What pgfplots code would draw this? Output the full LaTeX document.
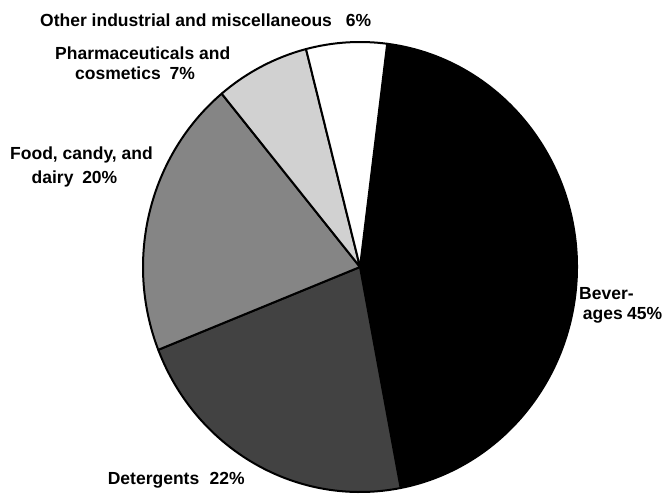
\documentclass[border=0pt]{standalone}
\usepackage{pgfplots}
\pgfplotsset{compat=1.18}
\usepackage{pgfplotstable}
\usepackage{fontspec}
\setmainfont{Liberation Sans}
\definecolor{slice0}{gray}{0}
\definecolor{slice1}{gray}{0.26}
\definecolor{slice2}{gray}{0.52}
\definecolor{slice3}{gray}{0.82}
\definecolor{slice4}{gray}{1}

% share of each industry, percent (clockwise from top)
\pgfplotstableread{
pct
45
22
20
7
6
}\piedata

\begin{document}
\begin{tikzpicture}
\begin{axis}[at={(0,0)}, anchor=south west, scale only axis,
  width=669bp, height=494bp, xmin=0, xmax=669, ymin=0, ymax=494,
  hide axis, clip=false]
\def\cx{360}\def\cy{227}\def\rx{217}\def\ry{225}
\xdef\angA{82.8}
\pgfplotsforeachungrouped \i in {0,...,4}{%
  \pgfplotstablegetelem{\i}{pct}\of\piedata
  \pgfmathsetmacro{\angB}{\angA-3.6*\pgfplotsretval}%
  \pgfmathsetmacro{\sx}{\cx+\rx*cos(\angA)}%
  \pgfmathsetmacro{\sy}{\cy+\ry*sin(\angA)}%
  \edef\temp{\noexpand\filldraw[fill=slice\i, draw=black, line width=2bp, line join=round]
    (axis cs:\cx,\cy) -- (axis cs:\sx,\sy)
    arc[start angle=\angA, end angle=\angB, x radius=\rx bp, y radius=\ry bp] -- cycle;}%
  \temp
  \xdef\angA{\angB}%
}
\tikzset{lab/.style={inner sep=0pt, font=\fontsize{17.5bp}{21bp}\selectfont\bfseries}}
\node[lab, anchor=base west] at (axis cs:40,467) {Other industrial and miscellaneous\hspace{0.8em}6\%};
\node[lab, anchor=base west] at (axis cs:55,434.5) {Pharmaceuticals and};
\node[lab, anchor=base west] at (axis cs:75,414) {cosmetics\hspace{0.5em}7\%};
\node[lab, anchor=base west] at (axis cs:10,334.7) {Food, candy, and};
\node[lab, anchor=base west] at (axis cs:31.5,310) {dairy\hspace{0.5em}20\%};
\node[lab, anchor=base west] at (axis cs:579,194.5) {Bever-};
\node[lab, anchor=base west] at (axis cs:582.7,174.7) {ages\hspace{0.25em}45\%};
\node[lab, anchor=base east] at (axis cs:245,10) {Detergents\hspace{0.6em}22\%};
\end{axis}
\pgfresetboundingbox
\useasboundingbox (0,0) rectangle (669bp,494bp);
\end{tikzpicture}
\end{document}
